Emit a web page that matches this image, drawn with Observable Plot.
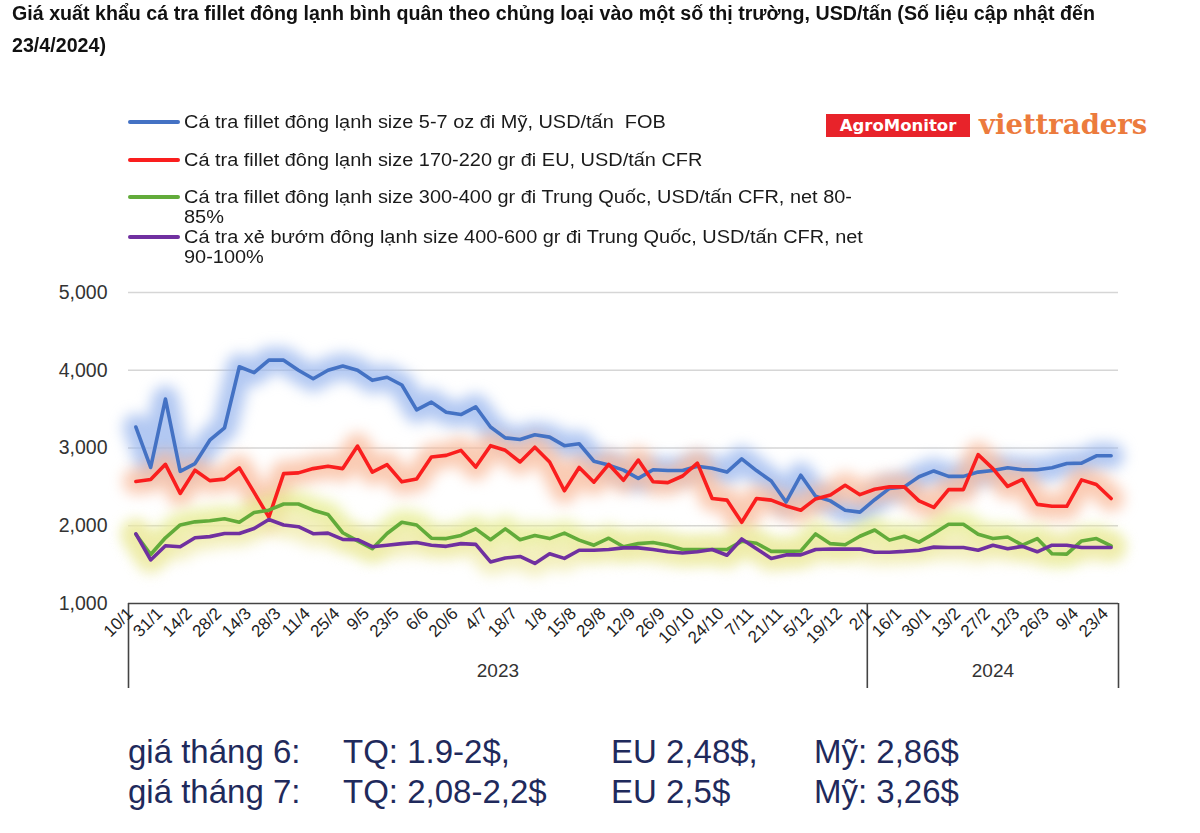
<!DOCTYPE html>
<html>
<head>
<meta charset="utf-8">
<script src="https://cdn.jsdelivr.net/npm/d3@7"></script>
<script src="https://cdn.jsdelivr.net/npm/@observablehq/plot@0.6"></script>
<style>
  html, body { margin: 0; padding: 0; background: #fff; }
  #wrap { position: relative; width: 1200px; height: 833px; overflow: hidden; font-family: "Liberation Sans", Arial, sans-serif; }
  .abs { position: absolute; white-space: nowrap; }
  .title { left: 12px; font-weight: bold; font-size: 20px; color: #111; transform-origin: left center; }
  .leg-line { position: absolute; left: 128px; width: 52px; height: 4px; border-radius: 2px; }
  .leg-text { left: 184px; font-size: 17.5px; color: #1a1a1a; transform-origin: left center; line-height: 20px; }
  .agro { left: 826px; top: 114px; width: 144px; height: 23px; background: #e8232a; color: #fff; font-family: "DejaVu Sans", sans-serif; font-weight: bold; font-size: 16.5px; line-height: 23px; text-align: center; }
  .viet { left: 979px; top: 107px; color: #ec7b3d; font-family: "DejaVu Serif", serif; font-weight: bold; font-size: 27.5px; line-height: 34px; }
  .note { font-size: 33px; color: #1f2a5c; line-height: 33px; }
  #chart { position: absolute; left: 0; top: 270px; }
</style>
</head>
<body>
<div id="wrap"></div>
<script>
// ---------- data ----------
const dates = [
  "10/1/2023","24/1/2023","31/1/2023","7/2/2023","14/2/2023","21/2/2023","28/2/2023","7/3/2023","14/3/2023","21/3/2023",
  "28/3/2023","4/4/2023","11/4/2023","18/4/2023","25/4/2023","2/5/2023","9/5/2023","16/5/2023","23/5/2023","30/5/2023",
  "6/6/2023","13/6/2023","20/6/2023","27/6/2023","4/7/2023","11/7/2023","18/7/2023","25/7/2023","1/8/2023","8/8/2023",
  "15/8/2023","22/8/2023","29/8/2023","5/9/2023","12/9/2023","19/9/2023","26/9/2023","3/10/2023","10/10/2023","17/10/2023",
  "24/10/2023","31/10/2023","7/11/2023","14/11/2023","21/11/2023","28/11/2023","5/12/2023","12/12/2023","19/12/2023","26/12/2023",
  "2/1/2024","9/1/2024","16/1/2024","23/1/2024","30/1/2024","6/2/2024","13/2/2024","20/2/2024","27/2/2024","5/3/2024",
  "12/3/2024","19/3/2024","26/3/2024","2/4/2024","9/4/2024","16/4/2024","23/4/2024"
];

// Cá tra fillet đông lạnh size 5-7 oz đi Mỹ, USD/tấn FOB
const usFob = [
  3270,2750,3630,2700,2800,3100,3260,4045,3970,4130,
  4130,4000,3890,4000,4055,4000,3870,3910,3810,3490,
  3590,3460,3430,3530,3270,3130,3110,3170,3140,3030,
  3055,2830,2780,2715,2610,2720,2710,2710,2765,2740,
  2690,2860,2710,2575,2305,2650,2380,2320,2200,2175,
  2335,2480,2500,2630,2705,2635,2635,2690,2710,2745,
  2720,2720,2745,2800,2805,2900,2900
];
// Cá tra fillet đông lạnh size 170-220 gr đi EU, USD/tấn CFR
const euCfr = [
  2570,2595,2790,2415,2715,2580,2600,2745,2430,2110,
  2670,2680,2735,2765,2735,3025,2690,2785,2565,2600,
  2885,2905,2970,2755,3030,2970,2820,3010,2820,2450,
  2750,2560,2790,2585,2845,2565,2555,2640,2805,2350,
  2330,2045,2350,2330,2255,2200,2345,2395,2520,2400,
  2470,2500,2500,2320,2235,2465,2465,2915,2735,2505,
  2595,2275,2250,2250,2590,2530,2350
];
// Cá tra fillet đông lạnh size 300-400 gr đi Trung Quốc, USD/tấn CFR, net 80-85%
const cnFillet = [
  1890,1630,1845,2010,2050,2065,2090,2045,2170,2200,
  2280,2280,2200,2145,1910,1805,1705,1900,2045,2010,
  1840,1835,1875,1960,1820,1960,1820,1875,1835,1905,
  1815,1750,1840,1730,1770,1785,1750,1695,1695,1695,
  1695,1800,1775,1670,1670,1675,1895,1770,1755,1865,
  1945,1815,1865,1790,1900,2020,2020,1890,1835,1855,
  1750,1835,1640,1635,1805,1835,1740
];
// Cá tra xẻ bướm đông lạnh size 400-600 gr đi Trung Quốc, USD/tấn CFR, net 90-100%
const cnButterfly = [
  1895,1560,1742,1730,1845,1860,1900,1900,1965,2080,
  2010,1988,1898,1905,1825,1820,1730,1750,1770,1785,
  1750,1735,1770,1760,1535,1585,1605,1515,1640,1580,
  1685,1685,1695,1715,1715,1695,1665,1650,1665,1695,
  1620,1830,1705,1580,1625,1625,1695,1700,1700,1700,
  1660,1660,1670,1685,1725,1720,1720,1685,1750,1705,
  1735,1665,1750,1750,1720,1720,1720
];

const legendLines = [
  ["Cá tra fillet đông lạnh size 5-7 oz đi Mỹ, USD/tấn\u00a0 FOB"],
  ["Cá tra fillet đông lạnh size 170-220 gr đi EU, USD/tấn CFR"],
  ["Cá tra fillet đông lạnh size 300-400 gr đi Trung Quốc, USD/tấn CFR, net 80-", "85%"],
  ["Cá tra xẻ bướm đông lạnh size 400-600 gr đi Trung Quốc, USD/tấn CFR, net", "90-100%"]
];
const seriesValues = [usFob, euCfr, cnFillet, cnButterfly];
const seriesColors = ["#4472c4", "#fa1e1e", "#62ab3a", "#7030a0"];
const glowColors = ["#98b6ee", "#f8b99a", "#e6ec8e", "#efeaa8"];
const yTicks = [1000, 2000, 3000, 4000, 5000];

const titleLines = [
  "Giá xuất khẩu cá tra fillet đông lạnh bình quân theo chủng loại vào một số thị trường, USD/tấn (Số liệu cập nhật đến",
  "23/4/2024)"
];
const notes = [
  ["giá tháng 6:", "TQ: 1.9-2$,", "EU 2,48$,", "Mỹ: 2,86$"],
  ["giá tháng 7:", "TQ: 2,08-2,2$", "EU 2,5$", "Mỹ: 3,26$"]
];

// ---------- page ----------
const wrap = document.getElementById("wrap");
function addDiv(cls, text, style) {
  const d = document.createElement("div");
  d.className = "abs " + cls;
  d.textContent = text;
  Object.assign(d.style, style || {});
  wrap.appendChild(d);
  return d;
}

// title (fitted to reference width)
const t1 = addDiv("title", titleLines[0], {top: "2px"});
const t2 = addDiv("title", titleLines[1], {top: "34px"});
const tScale = 1083 / t1.getBoundingClientRect().width;
[t1, t2].forEach(t => t.style.transform = `scaleX(${tScale})`);

// legend
const legendRowTops = [[112], [150], [187, 207], [227, 247]];
const legTexts = [];
legendLines.forEach((lines, k) => {
  const bar = document.createElement("div");
  bar.className = "leg-line";
  bar.style.top = (legendRowTops[k][0] + 8) + "px";
  bar.style.background = seriesColors[k];
  wrap.appendChild(bar);
  lines.forEach((ln, j) => legTexts.push(addDiv("leg-text", ln, {top: legendRowTops[k][j] + "px"})));
});
const lScale = 668 / legTexts[2].getBoundingClientRect().width;
legTexts.forEach(t => t.style.transform = `scaleX(${lScale})`);

// logos
addDiv("agro", "AgroMonitor");
addDiv("viet", "viettraders");

// notes
const noteLefts = [128, 343, 611, 814];
notes.forEach((row, r) => row.forEach((txt, c) =>
  addDiv("note", txt, {left: noteLefts[c] + "px", top: (735 + r * 40) + "px"})));

// ---------- chart ----------
const rows = dates.map((d, i) => {
  const p = d.split("/");
  return {i, label: p[0] + "/" + p[1], year: p[2]};
});
const series = seriesValues.map((vals, k) => vals.map((v, i) => ({i, v, k})));
const tickRows = rows.filter(r => r.i % 2 === 0);
const years = Array.from(new Set(rows.map(r => r.year))).map(y => {
  const idx = rows.filter(r => r.year === y).map(r => r.i);
  const first = d3.min(idx), last = d3.max(idx);
  return {year: y, first, last, mid: (first + last) / 2};
});
const boundaries = [years[0].first - 0.5, ...years.map(y => y.last + 0.5)];

const H = 430, MT = 22, MB = 97;
const plotH = H - MT - MB;

const marks = [
  Plot.ruleY(yTicks.filter(d => d > yTicks[0]), {stroke: "#d6d6d6", strokeWidth: 1.3}),
  ...series.map((s, k) => Plot.line(s, {x: "i", y: "v", stroke: glowColors[k], strokeWidth: 26, strokeOpacity: 0.75, strokeLinejoin: "round", strokeLinecap: "round", ariaDescription: "glow"})),
  ...series.map((s, k) => Plot.line(s, {x: "i", y: "v", stroke: seriesColors[k], strokeWidth: 3.6, strokeLinejoin: "round", strokeLinecap: "round"})),
  Plot.ruleY([yTicks[0]], {stroke: "#444", strokeWidth: 1.6}),
  Plot.ruleX(boundaries, {stroke: "#444", strokeWidth: 1.6, insetTop: plotH, insetBottom: -85}),
  Plot.text(yTicks, {y: d => d, text: d => d3.format(",")(d), frameAnchor: "left", textAnchor: "end", dx: -21, fontSize: 19.5, fill: "#333"}),
  Plot.text(tickRows, {x: "i", text: "label", frameAnchor: "bottom", rotate: -45, textAnchor: "end", dx: -2, dy: 11, fontSize: 17, fill: "#222"}),
  Plot.text(years, {x: "mid", text: "year", frameAnchor: "bottom", dy: 73, fontSize: 19, fill: "#333"})
];

const chart = Plot.plot({
  width: 1200,
  height: H,
  marginTop: MT,
  marginBottom: MB,
  marginLeft: 128,
  marginRight: 82,
  x: {domain: [-0.5, dates.length - 0.5], axis: null},
  y: {domain: [yTicks[0], yTicks[yTicks.length - 1]], axis: null},
  style: {fontFamily: "'Liberation Sans', Arial, sans-serif", background: "transparent", overflow: "visible"},
  marks
});
chart.id = "chart";
wrap.appendChild(chart);
chart.querySelectorAll('g[aria-description="glow"]').forEach(g => g.style.filter = "blur(7px)");
</script>
</body>
</html>
